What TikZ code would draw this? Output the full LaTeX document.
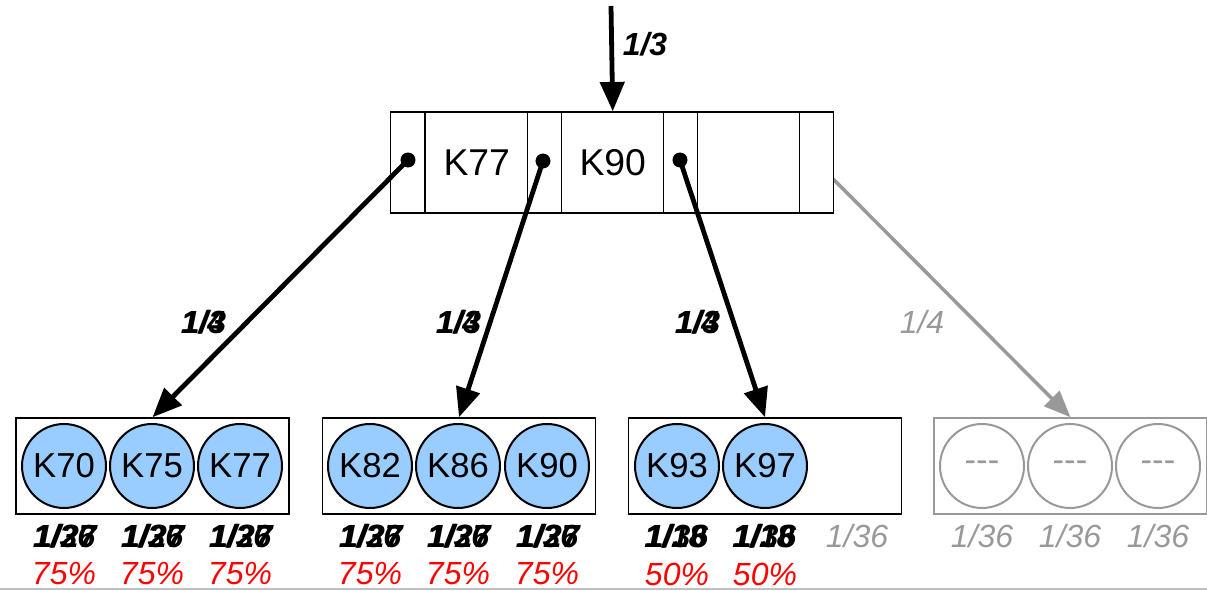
\documentclass[tikz,border=0pt]{standalone}
\usepackage{fontspec}
\setmainfont{Liberation Sans}
\usetikzlibrary{arrows.meta,backgrounds}
\definecolor{keyblue}{HTML}{99CCFF}
\definecolor{ghost}{HTML}{999999}
\definecolor{rule}{HTML}{C0C0C0}
\begin{document}
\begin{tikzpicture}[x=0.75pt,y=-0.75pt,
  cell/.style={draw=black, fill=white, line width=1.1pt, minimum height=75.75pt, inner sep=0pt, anchor=west, font=\fontsize{28}{28}\selectfont},
  ptrcell/.style={cell, minimum width=25.5pt},
  keycell/.style={cell, minimum width=76.5pt},
  leaf/.style={draw=black, line width=1.1pt, minimum width=204.75pt, minimum height=72pt, inner sep=0pt},
  ghostleaf/.style={leaf, draw=ghost},
  key/.style={circle, draw=black, line width=1.5pt, fill=keyblue, minimum size=63pt, inner sep=0pt, font=\fontsize{26}{26}\selectfont},
  ghostkey/.style={key, draw=ghost, fill=none, text=ghost},
  dot/.style={circle, fill=black, minimum size=11pt, inner sep=0pt},
  link/.style={line width=3.6pt, -{Triangle[length=22pt,width=18pt]}},
  ghostlink/.style={link, draw=ghost, line width=2.6pt, -{Triangle[length=20pt,width=16pt]}},
  frac/.style={font=\fontsize{24}{24}\selectfont\itshape, inner sep=0pt},
  boldfrac/.style={frac, font=\fontsize{24}{24}\selectfont\bfseries\itshape},
  ghostfrac/.style={frac, text=ghost},
  pct/.style={frac, text=red}]
\useasboundingbox (0,0) rectangle (1207,591);

% root page: pointer slots and key slots
\node[ptrcell] (p0) at (390,162.5) {};
\node[keycell] (k1) at (425,162.5) {K77};
\node[ptrcell] (p1) at (527,162.5) {};
\node[keycell] (k2) at (561,162.5) {K90};
\node[ptrcell] (p2) at (663,162.5) {};
\node[keycell] (k3) at (697,162.5) {};
\node[ptrcell] (p3) at (799,162.5) {};

% pointer dots
\node[dot] (d0) at (408,160) {};
\node[dot] (d1) at (543,161) {};
\node[dot] (d2) at (680,160) {};

% incoming pointer
\coordinate (top) at (611,6);
\draw[link] (top) -- (k2.north);
\node[boldfrac] at (645,44) {1/3};

% leaf pages
\node[leaf] (b1) at (152.5,466) {};
\node[leaf] (b2) at (459,466) {};
\node[leaf] (b3) at (765,466) {};
\node[ghostleaf] (b4) at (1070.5,466) {};

\node[key] (c70) at (64,466) {K70};
\node[key] (c75) at (152,466) {K75};
\node[key] (c77) at (240,466) {K77};
\node[key] (c82) at (370,466) {K82};
\node[key] (c86) at (458,466) {K86};
\node[key] (c90) at (547,466) {K90};
\node[key] (c93) at (677,466) {K93};
\node[key] (c97) at (765,466) {K97};
\node[ghostkey] (e1) at (982,466) {{-}{-}{-}};
\node[ghostkey] (e2) at (1070,466) {{-}{-}{-}};
\node[ghostkey] (e3) at (1158,466) {{-}{-}{-}};

% child pointers
\draw[link] (d0.center) -- (b1.north);
\draw[link] (d1.center) -- (b2.north);
\draw[link] (d2.center) -- (b3.north);
\begin{pgfonlayer}{background}
  \draw[ghostlink] (p3.center) -- (b4.north);
\end{pgfonlayer}
\node[dot] at (d0) {};
\node[dot] at (d1) {};
\node[dot] at (d2) {};

% pointer probabilities
\foreach \x in {203,458,697} {
  \node[boldfrac] at (\x,322) {1/4};
  \node[boldfrac] at (\x+1,322) {1/3};
}
\node[ghostfrac] at (922,322) {1/4};

% key probabilities
\foreach \x in {64,152,240,370,458,547} {
  \node[boldfrac] at (\x,536) {1/36};
  \node[boldfrac] at (\x+1.5,536) {1/27};
}
\foreach \x in {677,765} {
  \node[boldfrac] at (\x,536) {1/36};
  \node[boldfrac] at (\x-1.5,536) {1/18};
}
\foreach \x in {857,982,1070,1158}
  \node[ghostfrac] at (\x,536) {1/36};

% fill ratios
\foreach \x in {64,152,240,370,458,547}
  \node[pct] at (\x,574) {75\%};
\foreach \x in {677,765}
  \node[pct] at (\x,574) {50\%};

% bottom rule
\coordinate (r0) at (0,589);
\coordinate (r1) at (1207,589);
\draw[rule, line width=0.8pt] (r0) -- (r1);
\end{tikzpicture}
\end{document}
